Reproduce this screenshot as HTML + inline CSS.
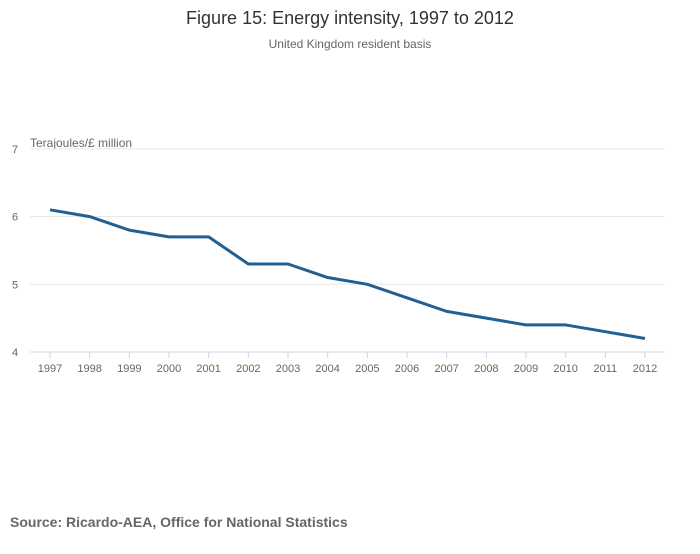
<!DOCTYPE html>
<html><head><meta charset="utf-8"><style>
body{margin:0;background:#fff;width:700px;height:549px;overflow:hidden;font-family:"Liberation Sans",sans-serif;}
</style></head><body>
<svg width="700" height="549" xmlns="http://www.w3.org/2000/svg">
<text x="350" y="24" text-anchor="middle" font-size="18" fill="#333">Figure 15: Energy intensity, 1997 to 2012</text>
<text x="350" y="48" text-anchor="middle" font-size="12" fill="#666">United Kingdom resident basis</text>
<text x="30" y="147" font-size="12" fill="#666">Terajoules/£ million</text>
<g id="grid"></g><g id="xaxis"></g>
<path id="line" fill="none" stroke="#206095" stroke-width="3" stroke-linejoin="round"/>
<text x="10" y="527" font-size="14" font-weight="bold" fill="#666">Source: Ricardo-AEA, Office for National Statistics</text>
</svg>
<script>
const years=["1997","1998","1999","2000","2001","2002","2003","2004","2005","2006","2007","2008","2009","2010","2011","2012"];
const values=[6.1,6.0,5.8,5.7,5.7,5.3,5.3,5.1,5.0,4.8,4.6,4.5,4.4,4.4,4.3,4.2];
const yTicks=[4,5,6,7];
const NS="http://www.w3.org/2000/svg";
const x=i=>50+i*(595/(years.length-1));
const y=v=>352-(v-4)*67.7;
const grid=document.getElementById('grid'),xa=document.getElementById('xaxis');
function mk(t,a,p){const e=document.createElementNS(NS,t);for(const k in a)e.setAttribute(k,a[k]);p.appendChild(e);return e;}
yTicks.forEach(v=>{
 const l=mk('line',{x1:30,x2:665,y1:y(v),y2:y(v),stroke:v===4?'#ccd6e6':'#e6e6e6','stroke-width':1},grid);
 
 
 const t=mk('text',{x:12,y:y(v)+4,'font-size':11,fill:'#666'},grid);t.textContent=v;
 
 
});
years.forEach((yr,i)=>{
 const tk=mk('line',{x1:x(i),x2:x(i),y1:352,y2:358,stroke:'#ccd6e6'},xa);
 
 
 const t=mk('text',{x:x(i),y:372,'font-size':11,fill:'#666','text-anchor':'middle'},xa);t.textContent=yr;
 
 
});
document.getElementById('line').setAttribute('d',values.map((v,i)=>(i?'L':'M')+x(i)+','+y(v)).join(''));
</script>
</body></html>
